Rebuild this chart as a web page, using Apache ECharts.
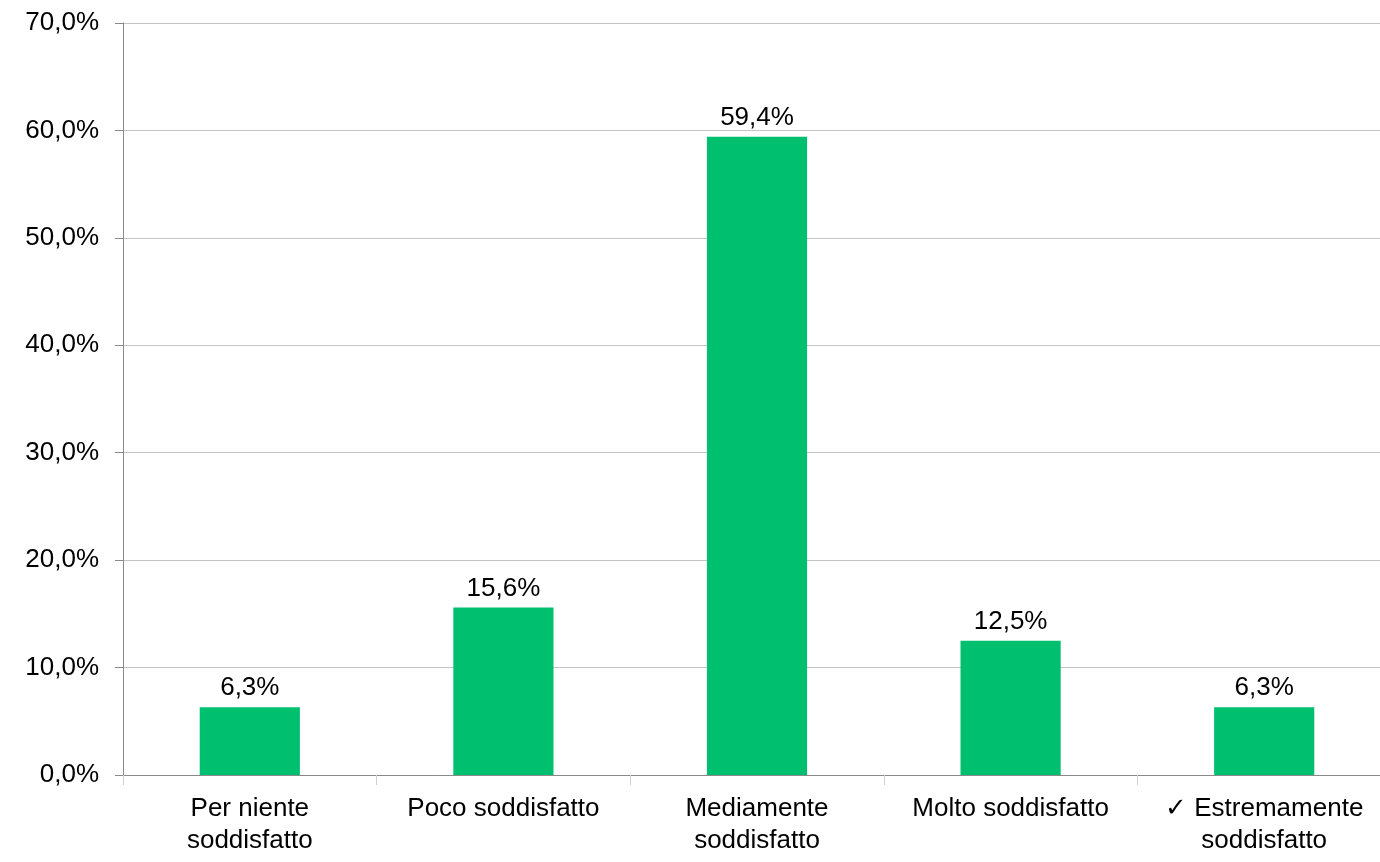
<!DOCTYPE html>
<html>
<head>
<meta charset="utf-8">
<style>
  html, body { margin: 0; padding: 0; background: #ffffff; overflow: hidden; width: 1380px; height: 862px; }
  /* canvas is a little wider than the window so the last category runs off the right edge */
  #chart { width: 1400px; height: 862px; }
</style>
<script src="https://cdn.jsdelivr.net/npm/echarts@6/dist/echarts.min.js"></script>
</head>
<body>
<div id="chart"></div>
<script>
// Satisfaction levels and share of respondents (%)
const categories = [
  'Per niente\nsoddisfatto',
  'Poco soddisfatto',
  'Mediamente\nsoddisfatto',
  'Molto soddisfatto',
  '\u2713 Estremamente\nsoddisfatto'
];
const shares = [6.3, 15.6, 59.4, 12.5, 6.3];

const FONT = 'Liberation Sans, Arial, sans-serif';
const fmtPct = (v, digits) => v.toFixed(digits).replace('.', ',') + '%';

const chart = echarts.init(document.getElementById('chart'), null, { renderer: 'canvas' });
chart.setOption({
  animation: false,
  backgroundColor: '#ffffff',
  grid: { left: 123, top: 23, width: 1268, bottom: 87, containLabel: false },
  xAxis: {
    type: 'category',
    data: categories,
    axisLine: { show: true, lineStyle: { color: '#898989', width: 1 } },
    axisTick: { show: true, alignWithLabel: false, length: 10, lineStyle: { color: '#d0d0d0', width: 1 } },
    axisLabel: {
      interval: 0,
      margin: 18,
      color: '#000000',
      fontFamily: FONT,
      fontSize: 26,
      lineHeight: 32
    },
    splitLine: { show: false }
  },
  yAxis: {
    type: 'value',
    min: 0,
    max: 70,
    interval: 10,
    axisLine: { show: true, lineStyle: { color: '#898989', width: 1 } },
    axisTick: { show: true, length: 8, lineStyle: { color: '#898989', width: 1 } },
    axisLabel: {
      margin: 24,
      color: '#000000',
      fontFamily: FONT,
      fontSize: 26,
      formatter: v => fmtPct(v, 1)
    },
    splitLine: { show: true, lineStyle: { color: '#c4c4c4', width: 1 } }
  },
  series: [{
    type: 'bar',
    data: shares,
    barWidth: '39.5%',
    itemStyle: { color: '#00BF6F' },
    label: {
      show: true,
      position: 'top',
      distance: 6,
      color: '#000000',
      fontFamily: FONT,
      fontSize: 26,
      formatter: p => fmtPct(p.value, 1)
    }
  }]
});
</script>
</body>
</html>
